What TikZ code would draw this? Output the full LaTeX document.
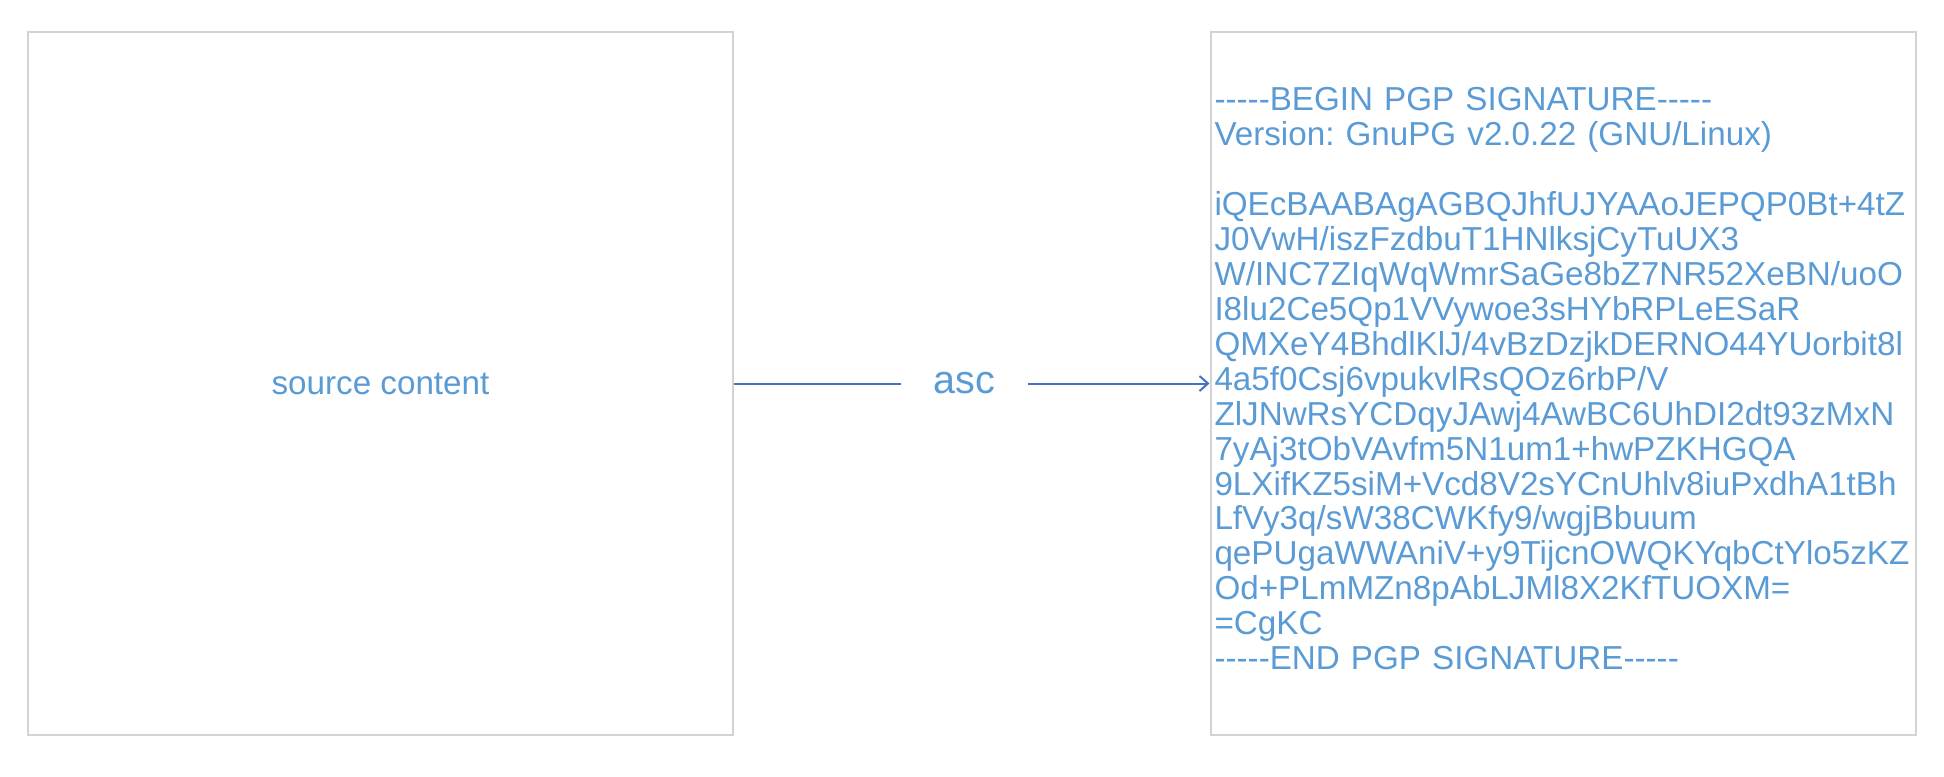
\documentclass[tikz,border=0pt]{standalone}
\usepackage{fontspec}
\setmainfont{Liberation Sans}[Ligatures=TeXOff]
\usetikzlibrary{arrows.meta}
\definecolor{txtblue}{RGB}{91,155,213}
\definecolor{lineblue}{RGB}{68,114,196}
\definecolor{boxgrey}{RGB}{211,211,211}
\tikzset{
  panel/.style={draw=boxgrey, line width=0.04cm, minimum width=14.1cm, minimum height=14.06cm,
    text=txtblue, font=\fontsize{18.9}{19.9}\selectfont},
  flow/.style={draw=lineblue, line width=0.04cm, -{Straight Barb[length=0.17cm, width=0.3cm]}},
  flowlabel/.style={fill=white, text=txtblue, inner xsep=0.66cm, font=\fontsize{22.5}{24}\selectfont}
}
\frenchspacing
\begin{document}
\begin{tikzpicture}
			\useasboundingbox (0,0) rectangle (38.88,15.52);
			\node[panel] at (7.61,7.85) (src) {source content};
			\node[panel, inner xsep=0.08cm, text width=13.94cm, align=left] at (31.26,7.85) (sig) {-----BEGIN PGP SIGNATURE-----\\
Version: GnuPG v2.0.22 (GNU/Linux)\\
\mbox{}\\
iQEcBAABAgAGBQJhfUJYAAoJEPQP0Bt+4tZ\\
J0VwH/iszFzdbuT1HNlksjCyTuUX3\\
W/INC7ZIqWqWmrSaGe8bZ7NR52XeBN/uoO\\
I8lu2Ce5Qp1VVywoe3sHYbRPLeESaR\\
QMXeY4BhdlKlJ/4vBzDzjkDERNO44YUorbit8l\\
4a5f0Csj6vpukvlRsQOz6rbP/V\\
ZlJNwRsYCDqyJAwj4AwBC6UhDI2dt93zMxN\\
7yAj3tObVAvfm5N1um1+hwPZKHGQA\\
9LXifKZ5siM+Vcd8V2sYCnUhlv8iuPxdhA1tBh\\
LfVy3q/sW38CWKfy9/wgjBbuum\\
qePUgaWWAniV+y9TijcnOWQKYqbCtYlo5zKZ\\
Od+PLmMZn8pAbLJMl8X2KfTUOXM=\\
=CgKC\\
-----END PGP SIGNATURE-----\\[-0.5cm]\mbox{}};
			\draw[flow] (src) -- node[flowlabel, pos=0.485] (asc) {asc} (sig);
\end{tikzpicture}
\end{document}
